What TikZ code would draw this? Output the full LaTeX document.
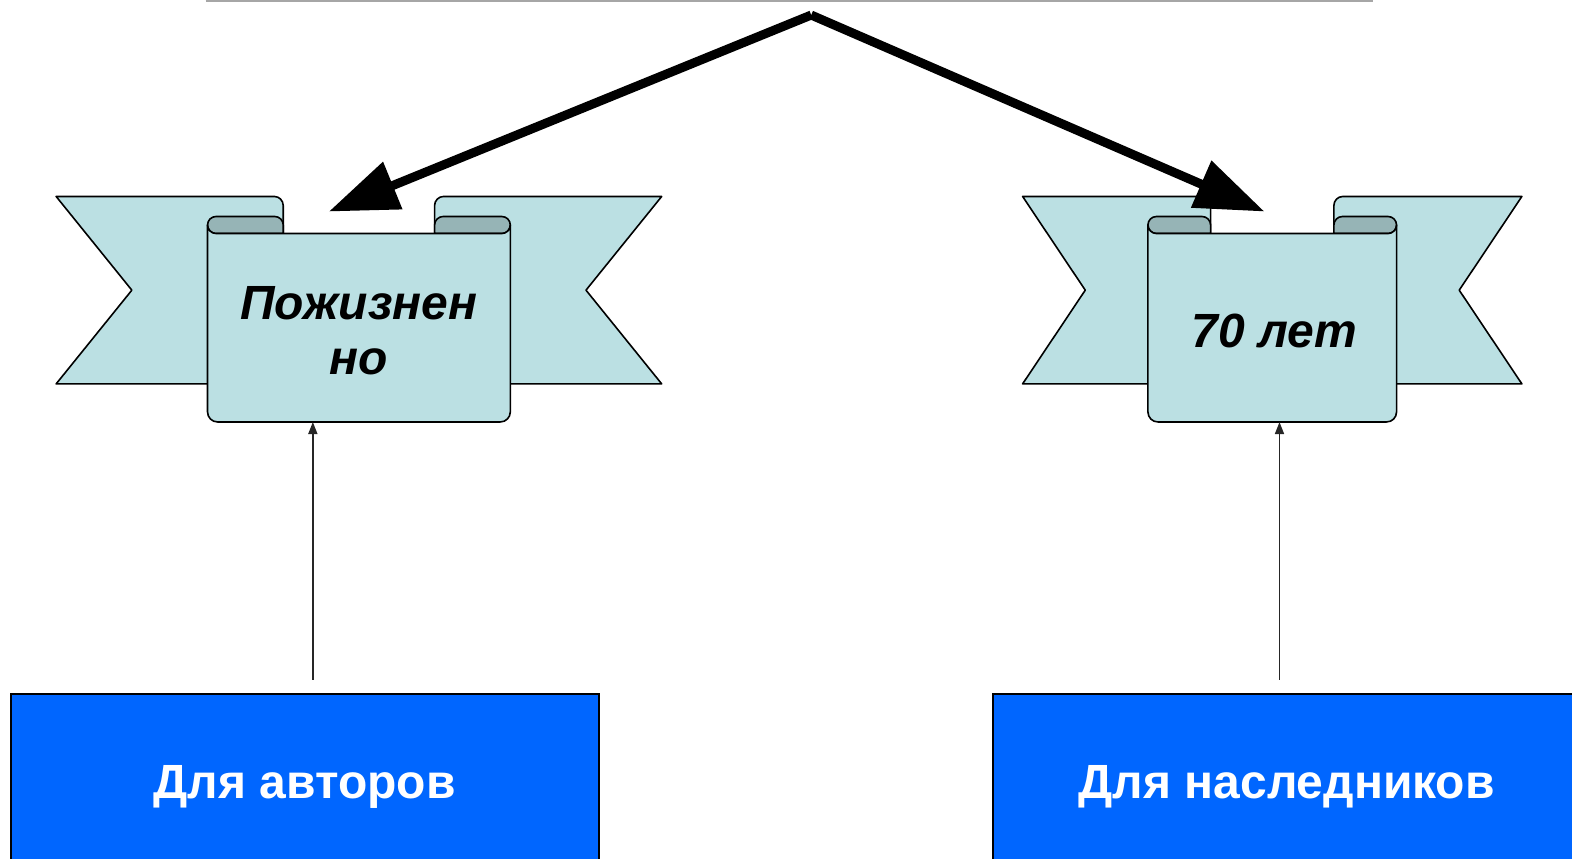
\documentclass[tikz,border=0pt]{standalone}
\usepackage{fontspec}
\setmainfont{Liberation Sans}
\usetikzlibrary{arrows.meta}
\definecolor{ribbonlight}{RGB}{187,224,227}
\definecolor{ribbondark}{RGB}{150,180,182}
\definecolor{boxblue}{RGB}{0,102,255}
\definecolor{topgray}{RGB}{166,166,166}
\tikzset{
  ribbonpart/.style={fill=ribbonlight,draw=black,line width=1.6pt,line join=round},
  foldpart/.style={fill=ribbondark,draw=black,line width=1.6pt,line join=round},
  ribtext/.style={inner sep=0pt,align=center,font=\fontsize{48}{55}\selectfont\bfseries\itshape},
  bluebox/.style={fill=boxblue,draw=black,line width=2pt,inner sep=0pt,text=white,
    font=\fontsize{48}{55}\selectfont\bfseries,text height=35pt,text depth=0pt},
  thickarrow/.style={line width=9pt,-{Triangle[length=69pt,width=49pt]}},
  thinarrow/.style={line width=1.6pt,draw=black!85,-{Triangle[length=12pt,width=9pt]}},
  topline/.style={line width=2pt,draw=topgray}
}
% ribbon: #1 centre x, #2 outer half width, #3 panel half width, #4 inset, #5 name
\newcommand{\myribbon}[5]{%
  \begin{scope}[shift={(#1,0)}]
    % left ear
    \path[ribbonpart] ({-#3},-383) -- ({-#2},-383) -- ({-#2+#4},-289.5) -- ({-#2},-196)
      -- ({-#3+#4-9},-196) arc[start angle=90,end angle=0,radius=9] -- ({-#3+#4},-233);
    % right ear
    \path[ribbonpart] ({#3},-383) -- ({#2},-383) -- ({#2-#4},-289.5) -- ({#2},-196)
      -- ({#3-#4+9},-196) arc[start angle=90,end angle=180,radius=9] -- ({#3-#4},-233);
    % left fold
    \path[foldpart] ({-#3+8.5},-233) arc[start angle=270,end angle=90,radius=8.5]
      -- ({-#3+#4-8.5},-216) arc[start angle=90,end angle=0,radius=8.5] -- ({-#3+#4},-233) -- cycle;
    % right fold
    \path[foldpart] ({#3-8.5},-233) arc[start angle=-90,end angle=90,radius=8.5]
      -- ({#3-#4+8.5},-216) arc[start angle=90,end angle=180,radius=8.5] -- ({#3-#4},-233) -- cycle;
    % front panel
    \path[ribbonpart] ({-#3},-224.5) -- ({-#3},-411) arc[start angle=180,end angle=270,radius=10]
      -- ({#3-10},-421) arc[start angle=270,end angle=360,radius=10] -- ({#3},-224.5)
      arc[start angle=0,end angle=-90,radius=8.5] -- ({-#3+8.5},-233)
      arc[start angle=270,end angle=180,radius=8.5] -- cycle;
    \node[inner sep=0pt,minimum width=2*#3,minimum height=188] (#5) at (0,-327) {};
  \end{scope}}
\begin{document}
\begin{tikzpicture}[x=1pt,y=1pt]
  \useasboundingbox (0,0) rectangle (1572,-859);
  \begin{scope}[xscale=1.00255,yscale=1.0023]
  % top line
  \coordinate (lineL) at (205,-1);
  \coordinate (lineR) at (1369,-1);
  \draw[topline] (lineL) -- (lineR);
  % ribbons
  \myribbon{358}{302}{151}{75.5}{pL}
  \myribbon{1269}{249}{124}{62.5}{pR}
  \node[ribtext] (tL) at (358,-330) {Пожизнен\\но};
  \node[ribtext] (tR) at (1271,-330.5) {70 лет};
  % thick arrows
  \coordinate (apex) at (809,-15);
  \coordinate (tipL) at (328,-211);
  \coordinate (tipR) at (1261,-211);
  \draw[thickarrow] (apex) -- (tipL);
  \draw[thickarrow] (apex) -- (tipR);
  % boxes
  \node[bluebox,minimum width=588,minimum height=175] (bL) at (304,-779.5) {Для авторов};
  \node[bluebox,minimum width=587,minimum height=175] (bR) at (1283.5,-779.5) {Для наследников};
  % thin arrows
  \coordinate (sL) at (312,-678);
  \coordinate (sR) at (1276,-678);
  \draw[thinarrow] (sL) -- (sL |- pL.south);
  \draw[thinarrow] (sR) -- (sR |- pR.south);
  \end{scope}
\end{tikzpicture}
\end{document}
